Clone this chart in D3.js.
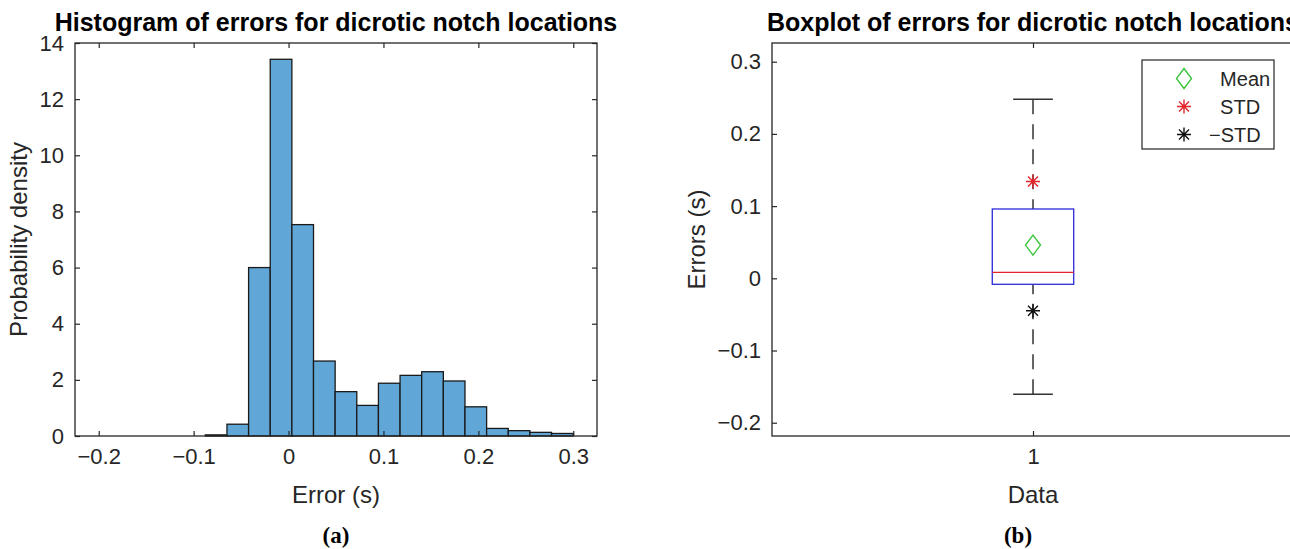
<!DOCTYPE html>
<html>
<head>
<meta charset="utf-8">
<script src="https://cdn.jsdelivr.net/npm/d3@7"></script>
<style>
  body { margin: 0; background: #fff; }
  svg { font-family: "Liberation Sans", Arial, sans-serif; display: block; }
</style>
</head>
<body>
<div id="chart"></div>
<script>

// histogram: bin edges (s) and probability density of each bin
var binEdges = [-0.0877, -0.0649, -0.0421, -0.0193, 0.0035, 0.0263, 0.0491, 0.0719, 0.0947,
                0.1175, 0.1403, 0.1631, 0.1859, 0.2087, 0.2315, 0.2543, 0.2771, 0.2999];
var density = [0.04, 0.42, 6.0, 13.42, 7.53, 2.67, 1.58, 1.09, 1.88, 2.16, 2.29, 1.96, 1.04, 0.27, 0.19, 0.13, 0.09];
var histTicksX = [-0.2, -0.1, 0, 0.1, 0.2, 0.3];
var histTicksY = [0, 2, 4, 6, 8, 10, 12, 14];

// boxplot: one group of errors (s)
var boxGroups = [1];
var whiskerHigh = [0.248];
var upperQuartile = [0.096];
var medianVal = [0.0083];
var lowerQuartile = [-0.0083];
var whiskerLow = [-0.1607];
var meanVal = [0.046];
var plusStd = [0.134];
var minusStd = [-0.0449];
var boxTicksY = [-0.2, -0.1, 0, 0.1, 0.2, 0.3];
var legendLabels = ["  Mean", "  STD", "\u2212STD"];

var width = 1290, height = 549;
var axisColor = "#262626";

var svg = d3.select("#chart").append("svg")
    .attr("width", width)
    .attr("height", height);

function fmt(d) {
  return d === 0 ? "0" : d3.format(".1f")(d);
}

// draws the matlab style frame: box plus inward ticks on the sides
function drawFrame(x, y, xTicks, yTicks, xFormat, yFormat, rightTicks) {
  var x0 = x.range()[0], x1 = x.range()[1],
      y0 = y.range()[0], y1 = y.range()[1];

  var axes = [];
  axes.push(svg.append("g")
      .attr("transform", "translate(0," + y0 + ")")
      .call(d3.axisBottom(x).tickValues(xTicks).tickSizeInner(-5).tickSizeOuter(0)
        .tickPadding(12).tickFormat(xFormat)));
  axes.push(svg.append("g")
      .attr("transform", "translate(0," + y1 + ")")
      .call(d3.axisTop(x).tickValues(xTicks).tickSizeInner(-5).tickSizeOuter(0).tickFormat("")));
  axes.push(svg.append("g")
      .attr("transform", "translate(" + x0 + ",0)")
      .call(d3.axisLeft(y).tickValues(yTicks).tickSizeInner(-5).tickSizeOuter(0)
        .tickPadding(11).tickFormat(yFormat)));
  if (rightTicks) {
    axes.push(svg.append("g")
        .attr("transform", "translate(" + x1 + ",0)")
        .call(d3.axisRight(y).tickValues(yTicks).tickSizeInner(-5).tickSizeOuter(0).tickFormat("")));
  }

  axes.forEach(function(g) {
    g.select(".domain").remove();
    g.selectAll("line").attr("stroke", axisColor).attr("stroke-width", 1.2);
    g.selectAll("text")
      .attr("fill", axisColor)
      .style("font-size", "22px")
      .style("font-family", "'Liberation Sans', Arial, sans-serif");
  });

  svg.append("rect")
    .attr("x", x0)
    .attr("y", y1)
    .attr("width", x1 - x0)
    .attr("height", y0 - y1)
    .attr("fill", "none")
    .attr("stroke", axisColor)
    .attr("stroke-width", 1.3);
}

function addText(x, y, txt, size, weight, rotate, family) {
  var t = svg.append("text")
    .attr("text-anchor", "middle")
    .style("font-size", size + "px")
    .style("font-weight", weight || "normal")
    .attr("fill", weight === "bold" ? "#000" : axisColor)
    .text(txt);
  if (family) t.style("font-family", family);
  if (rotate) t.attr("transform", "translate(" + x + "," + y + ") rotate(-90)");
  else t.attr("x", x).attr("y", y);
  return t;
}

// ---------- (a) histogram ----------
var hx = d3.scaleLinear().domain([-0.225, 0.325]).range([75, 597]);
var hy = d3.scaleLinear().domain([0, 14]).range([436, 43]);

svg.selectAll(".bar").data(density).enter()
  .append("rect")
    .attr("class", "bar")
    .attr("x", function(d, i) { return hx(binEdges[i]); })
    .attr("width", function(d, i) { return hx(binEdges[i + 1]) - hx(binEdges[i]); })
    .attr("y", function(d) { return hy(d); })
    .attr("height", function(d) { return hy(0) - hy(d); })
    .attr("fill", "#60a7d8")
    .attr("stroke", "#1a1a1a")
    .attr("stroke-width", 1.3);

drawFrame(hx, hy, histTicksX, histTicksY, fmt, d3.format("d"), true);

addText(336, 31, "Histogram of errors for dicrotic notch locations", 25, "bold");
addText(336, 503, "Error (s)", 24);
addText(27, 239.5, "Probability density", 24, null, true);
addText(336, 543, "(a)", 23, "bold", false, "'Liberation Serif', serif");

// ---------- (b) boxplot ----------
var bx = d3.scaleLinear().domain([0.5, 1.5]).range([772, 1294]);
var by = d3.scaleLinear().domain([-0.2184, 0.3259]).range([436, 43]);
var boxHalf = 0.078, capHalf = 0.038;

drawFrame(bx, by, boxGroups, boxTicksY, d3.format("d"), fmt, false);

var box = svg.selectAll(".box").data(boxGroups).enter().append("g").attr("class", "box");

// whiskers
box.append("line")
  .attr("x1", function(d) { return bx(d); }).attr("x2", function(d) { return bx(d); })
  .attr("y1", function(d, i) { return by(whiskerHigh[i]); })
  .attr("y2", function(d, i) { return by(upperQuartile[i]); })
  .attr("stroke", "#333").attr("stroke-width", 1.5).attr("stroke-dasharray", "15,10");
box.append("line")
  .attr("x1", function(d) { return bx(d); }).attr("x2", function(d) { return bx(d); })
  .attr("y1", function(d, i) { return by(whiskerLow[i]); })
  .attr("y2", function(d, i) { return by(lowerQuartile[i]); })
  .attr("stroke", "#333").attr("stroke-width", 1.5).attr("stroke-dasharray", "15,10");

// caps
[whiskerHigh, whiskerLow].forEach(function(arr) {
  box.append("line")
    .attr("x1", function(d) { return bx(d - capHalf); })
    .attr("x2", function(d) { return bx(d + capHalf); })
    .attr("y1", function(d, i) { return by(arr[i]); })
    .attr("y2", function(d, i) { return by(arr[i]); })
    .attr("stroke", "#333").attr("stroke-width", 1.5);
});

box.append("rect")
  .attr("x", function(d) { return bx(d - boxHalf); })
  .attr("width", function(d) { return bx(d + boxHalf) - bx(d - boxHalf); })
  .attr("y", function(d, i) { return by(upperQuartile[i]); })
  .attr("height", function(d, i) { return by(lowerQuartile[i]) - by(upperQuartile[i]); })
  .attr("fill", "none")
  .attr("stroke", "#2a2ad8")
  .attr("stroke-width", 1.3);

box.append("line")
  .attr("x1", function(d) { return bx(d - boxHalf); })
  .attr("x2", function(d) { return bx(d + boxHalf); })
  .attr("y1", function(d, i) { return by(medianVal[i]); })
  .attr("y2", function(d, i) { return by(medianVal[i]); })
  .attr("stroke", "#e3242b")
  .attr("stroke-width", 1.3);

var diamond = "M0,-10L7.5,0L0,10L-7.5,0Z";
var star = "M0,-7V7M-7,0H7M-5,-5L5,5M-5,5L5,-5";

function marker(g, path, color, cx, cy) {
  g.append("path")
    .attr("d", path)
    .attr("transform", "translate(" + cx + "," + cy + ")")
    .attr("fill", "none")
    .attr("stroke", color)
    .attr("stroke-width", 1.4);
}

boxGroups.forEach(function(d, i) {
  marker(svg, diamond, "#3cc43c", bx(d), by(meanVal[i]));
  marker(svg, star, "#e3242b", bx(d), by(plusStd[i]));
  marker(svg, star, "#111", bx(d), by(minusStd[i]));
});

// legend
var legend = svg.append("g").attr("transform", "translate(1142,60)");
legend.append("rect")
  .attr("width", 132).attr("height", 89)
  .attr("fill", "#fff").attr("stroke", axisColor).attr("stroke-width", 1.2);
var legendPaths = [diamond, star, star];
var legendColors = ["#3cc43c", "#e3242b", "#111"];
legendLabels.forEach(function(lab, i) {
  var yy = 18.5 + i * 28;
  marker(legend, legendPaths[i], legendColors[i], 42, yy);
  legend.append("text")
    .attr("x", 67)
    .attr("y", yy + 7)
    .style("font-size", "20px")
    .style("white-space", "pre")
    .attr("fill", axisColor)
    .text(lab);
});

addText(1033, 31, "Boxplot of errors for dicrotic notch locations", 25, "bold");
addText(1033, 503, "Data", 24);
addText(705, 239.5, "Errors (s)", 24, null, true);
addText(1018, 543, "(b)", 23, "bold", false, "'Liberation Serif', serif");

</script>
</body>
</html>
